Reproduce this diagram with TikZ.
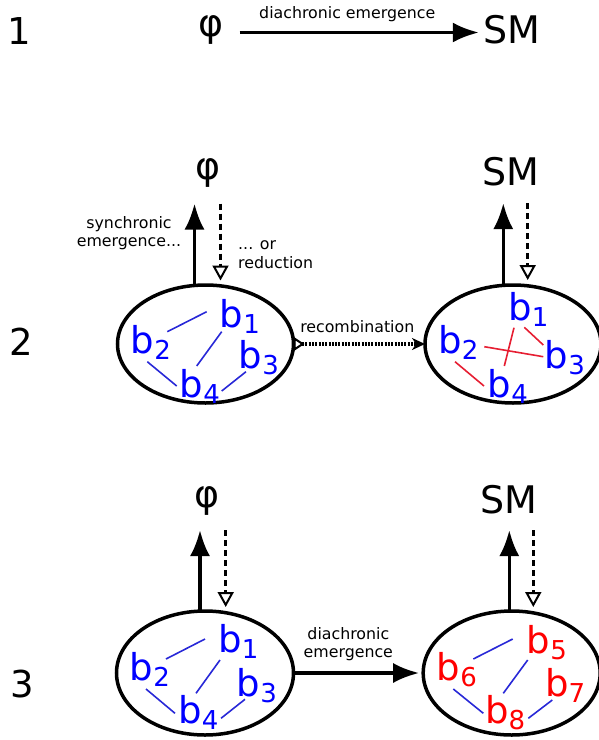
\documentclass[tikz,border=0pt]{standalone}
\usepackage{fontspec}
\setmainfont{DejaVu Sans}
\usetikzlibrary{arrows.meta,shapes.geometric}
\newcommand{\bsub}[1]{b\raisebox{-6pt}{\fontsize{26}{26}\selectfont #1}}
\definecolor{lineblue}{RGB}{40,40,215}
\definecolor{linered}{RGB}{230,30,50}
\begin{document}
\begin{tikzpicture}[x=1pt,y=-1pt,
  big/.style={font=\fontsize{38}{40}\selectfont, inner sep=0pt, outer sep=0pt},
  num/.style={font=\fontsize{37}{40}\selectfont, inner sep=0pt},
  lab/.style={font=\fontsize{15.8}{18.5}\selectfont, inner sep=0pt, align=center},
  bnode/.style={font=\fontsize{37}{40}\selectfont, inner sep=0pt, anchor=base west},
  bb/.style={bnode, text=blue},
  rb/.style={bnode, text=red},
  ell/.style={draw, ellipse, line width=3.5pt, inner sep=0pt, outer sep=0pt},
  bigarrow/.style={line width=3.5pt, -{Latex[length=26pt,width=20pt]}},
  dnarrow/.style={line width=3.5pt, dash pattern=on 6pt off 4pt,
     -{Triangle[open,length=15pt,width=16pt,line width=2pt]}},
  recarrow/.style={line width=3.5pt, dash pattern=on 2pt off 1.3pt,
     {Triangle[open,reversed,length=11pt,width=14pt,line width=2pt]}-{Stealth[length=13pt,width=12pt,inset=4pt]}},
  bl/.style={lineblue, line width=1.6pt},
  rl/.style={linered, line width=1.6pt}
]
\useasboundingbox (0,0) rectangle (598,740);

% ---------- row 1
\node[num] (n1) at (19.6,31) {1};
\node[big] (phi1) at (211,29.5) {φ};
\node[big] (sm1) at (512.3,29.5) {SM};
\draw[bigarrow] ([xshift=16pt,yshift=-3pt]phi1.east) -- node[lab,pos=0.45,above=9pt]{diachronic emergence} ([xshift=-5pt,yshift=-3pt]sm1.west);

% ---------- row 2
\node[num] (n2) at (21,341.5) {2};
\node[big] (phi2) at (208,173.3) {φ};
\node[big] (sm2) at (510.8,171.7) {SM};
\node[ell, minimum width=176pt, minimum height=118pt] (e2l) at (205.5,344) {};
\node[ell, minimum width=176pt, minimum height=118pt] (e2r) at (513,344) {};

\draw[bigarrow] ([xshift=-11pt]e2l.north) -- ++(0,-81.5);
\draw[dnarrow] ([xshift=15pt,yshift=81.5pt]e2l.north) -- ([xshift=15pt,yshift=4.5pt]e2l.north);
\draw[bigarrow] ([xshift=-9.7pt]e2r.north) -- ++(0,-82);
\draw[dnarrow] ([xshift=14.7pt,yshift=82pt]e2r.north) -- ([xshift=14.7pt,yshift=5pt]e2r.north);

\node[lab, anchor=base] (syn) at (129,246.7) {synchronic\\emergence...};
\node[lab, align=left, anchor=base west] (red) at (238,268) {... or\\reduction};

\draw[recarrow] (e2l.east) -- node[lab, above=10pt, xshift=-2pt]{recombination} (e2r.west);

\node[bb] (a1) at (219.6,327) {\bsub{1}};
\node[bb] (a2) at (130.6,353) {\bsub{2}};
\node[bb] (a3) at (238.6,368) {\bsub{3}};
\node[bb] (a4) at (179.6,397) {\bsub{4}};
\draw[bl] (167.3,331.7) -- (206.7,311.7);
\draw[bl] (221.7,331.7) -- (196.7,366);
\draw[bl] (147.3,361.7) -- (176.7,386);
\draw[bl] (221.7,391) -- (246,371.7);

\node[bb] (c1) at (508.3,320) {\bsub{1}};
\node[bb] (c2) at (438.3,353) {\bsub{2}};
\node[bb] (c3) at (544.6,368) {\bsub{3}};
\node[bb] (c4) at (487.6,397) {\bsub{4}};
\draw[rl] (514,327.7) -- (504.3,366);
\draw[rl] (524.3,327.3) -- (543.3,345);
\draw[rl] (484.3,346.7) -- (543.3,356.7);
\draw[rl] (455,361.7) -- (484,386);

% ---------- row 3
\node[num] (n3) at (22.5,684) {3};
\node[big] (phi3) at (207,501) {φ};
\node[big] (sm3) at (509,499.7) {SM};
\node[ell, minimum width=177pt, minimum height=124pt] (e3l) at (205,673) {};
\node[ell, minimum width=177pt, minimum height=124pt] (e3r) at (511.7,673) {};

\draw[bigarrow] ([xshift=-5pt]e3l.north) -- ++(0,-81);
\draw[dnarrow] ([xshift=20.7pt,yshift=81pt]e3l.north) -- ([xshift=20.7pt,yshift=4pt]e3l.north);
\draw[bigarrow] ([xshift=-2.4pt]e3r.north) -- ++(0,-81);
\draw[dnarrow] ([xshift=21.6pt,yshift=81pt]e3r.north) -- ([xshift=21.6pt,yshift=4pt]e3r.north);

\draw[bigarrow, shorten >=4pt] (e3l.east) -- node[lab, above=10pt, xshift=-10pt]{diachronic\\emergence} (e3r.west);

\node[bb] (d1) at (218.3,652) {\bsub{1}};
\node[bb] (d2) at (129.6,680) {\bsub{2}};
\node[bb] (d3) at (236.6,696) {\bsub{3}};
\node[bb] (d4) at (178.3,723) {\bsub{4}};
\draw[bl] (166,659) -- (205,639);
\draw[bl] (220,660) -- (196,693.3);
\draw[bl] (146,689) -- (175,713.3);
\draw[bl] (221,718.3) -- (245,699.3);

\node[rb] (f5) at (526.6,653) {\bsub{5}};
\node[rb] (f6) at (436.6,680) {\bsub{6}};
\node[rb] (f7) at (544.9,696.7) {\bsub{7}};
\node[rb] (f8) at (484.9,723) {\bsub{8}};
\draw[bl] (473.3,659) -- (512.7,639);
\draw[bl] (527.7,660) -- (503.3,693.3);
\draw[bl] (453.3,689) -- (483.3,713.3);
\draw[bl] (528.3,718.3) -- (552.3,700);
\end{tikzpicture}
\end{document}
